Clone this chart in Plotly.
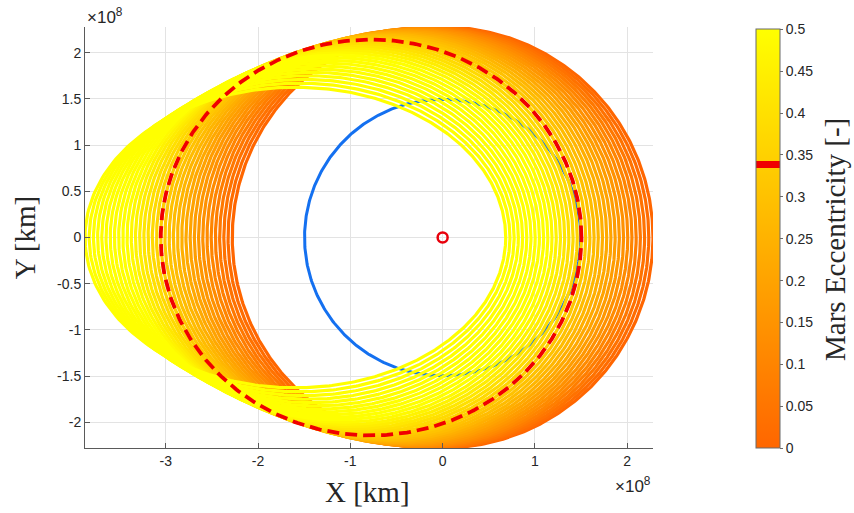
import numpy as np
import plotly.graph_objects as go
from plotly.colors import sample_colorscale

# Orbital parameters (km)
MARS_A_KM = 2.279e8          # semi-major axis of the Mars orbit family
EARTH_R_KM = 1.496e8         # Earth orbit radius (circular)
HIGHLIGHT_E = 0.34           # highlighted Mars eccentricity (dashed)

# Eccentricities of the plotted orbit family
ECCENTRICITIES = [0.00, 0.02, 0.04, 0.06, 0.08, 0.10, 0.12, 0.14, 0.16,
                  0.18, 0.20, 0.22, 0.24, 0.26, 0.28, 0.30, 0.32, 0.34,
                  0.36, 0.38, 0.40, 0.42, 0.44, 0.46, 0.48, 0.50, 0.52,
                  0.54, 0.56, 0.58, 0.60, 0.62, 0.64, 0.66, 0.68, 0.70]

# Colour scale limits and axis ticks
C_MIN, C_MAX = 0.0, 0.5
CBAR_TICKS = [0, 0.05, 0.1, 0.15, 0.2, 0.25, 0.3, 0.35, 0.4, 0.45, 0.5]
X_TICKS = [-3, -2, -1, 0, 1, 2]
Y_TICKS = [-2, -1.5, -1, -0.5, 0, 0.5, 1, 1.5, 2]
SCALE = 1e8

ORANGE = "#FF6600"
YELLOW = "#FFFF00"
BASE_SCALE = [[0.0, ORANGE], [1.0, YELLOW]]

LABEL_FONT = "Liberation Serif, Times New Roman, serif"
TICK_FONT = "Liberation Sans, Arial, Helvetica, sans-serif"

theta = np.linspace(0, 2 * np.pi, 600)


def focal_ellipse(a, e):
    """Keplerian orbit with the Sun at the focus, periapsis on +x."""
    r = a * (1 - e ** 2) / (1 + e * np.cos(theta))
    return r * np.cos(theta), r * np.sin(theta)


fig = go.Figure()

# Earth orbit
fig.add_trace(go.Scatter(
    x=EARTH_R_KM * np.cos(theta), y=EARTH_R_KM * np.sin(theta),
    mode="lines", line=dict(color="#1470F0", width=3),
    hoverinfo="skip", showlegend=False))

# Mars orbit family coloured by eccentricity (clipped to colour limits)
for e in ECCENTRICITIES:
    t = (min(max(e, C_MIN), C_MAX) - C_MIN) / (C_MAX - C_MIN)
    col = sample_colorscale(BASE_SCALE, [t])[0]
    x, y = focal_ellipse(MARS_A_KM, e)
    fig.add_trace(go.Scatter(
        x=x, y=y, mode="lines", line=dict(color=col, width=3.2),
        hoverinfo="skip", showlegend=False))

# Highlighted orbit
xh, yh = focal_ellipse(MARS_A_KM, HIGHLIGHT_E)
fig.add_trace(go.Scatter(
    x=xh, y=yh, mode="lines",
    line=dict(color="#F00000", width=3.8, dash="12px,6px"),
    hoverinfo="skip", showlegend=False))

# Sun
fig.add_trace(go.Scatter(
    x=[0], y=[0], mode="markers",
    marker=dict(symbol="circle-open", size=10, color="#E8000B",
                line=dict(width=2.5, color="#E8000B")),
    hoverinfo="skip", showlegend=False))

# Colour bar with the highlighted eccentricity marked in red
band_lo = (0.334 - C_MIN) / (C_MAX - C_MIN)
band_hi = (0.342 - C_MIN) / (C_MAX - C_MIN)
c_lo = sample_colorscale(BASE_SCALE, [band_lo])[0]
c_hi = sample_colorscale(BASE_SCALE, [band_hi])[0]
cbar_scale = [[0.0, ORANGE], [band_lo, c_lo], [band_lo, "#F00000"],
              [band_hi, "#F00000"], [band_hi, c_hi], [1.0, YELLOW]]

fig.add_trace(go.Scatter(
    x=[None], y=[None], mode="markers",
    marker=dict(color=[0], cmin=C_MIN, cmax=C_MAX, colorscale=cbar_scale,
                showscale=True,
                colorbar=dict(
                    x=1.181, xanchor="left", xpad=0, ypad=0,
                    y=0.497, yanchor="middle", len=0.995, lenmode="fraction",
                    thickness=24, outlinewidth=1, outlinecolor="#6b6b6b",
                    tickvals=CBAR_TICKS,
                    ticktext=[f"{v:g}" for v in CBAR_TICKS],
                    ticks="outside", ticklen=3, tickcolor="#6b6b6b",
                    tickfont=dict(family=TICK_FONT, size=14, color="#262626"))),
    hoverinfo="skip", showlegend=False))

x_lo = -MARS_A_KM * (1 + max(ECCENTRICITIES))
x_hi = MARS_A_KM
fig.update_layout(
    width=854, height=513,
    margin=dict(l=85, r=201, t=27, b=65),
    paper_bgcolor="white", plot_bgcolor="white",
    xaxis=dict(range=[x_lo, x_hi], tickvals=[v * SCALE for v in X_TICKS],
               ticktext=[f"{v:g}" for v in X_TICKS],
               showgrid=True, gridcolor="#E3E3E3", gridwidth=1,
               zeroline=False, showline=True, linecolor="#5a5a5a",
               linewidth=1, ticks="inside", ticklen=5, tickcolor="#5a5a5a",
               tickfont=dict(family=TICK_FONT, size=14, color="#262626")),
    yaxis=dict(range=[-MARS_A_KM, MARS_A_KM],
               tickvals=[v * SCALE for v in Y_TICKS],
               ticktext=[f"{v:g}" for v in Y_TICKS],
               showgrid=True, gridcolor="#E3E3E3", gridwidth=1,
               zeroline=False, showline=True, linecolor="#5a5a5a",
               linewidth=1, ticks="inside", ticklen=5, tickcolor="#5a5a5a",
               tickfont=dict(family=TICK_FONT, size=14, color="#262626")),
)

annotations = [
    dict(text="X [km]", x=0.498, y=-0.105, xref="paper", yref="paper",
         xanchor="center", yanchor="middle", showarrow=False,
         font=dict(family=LABEL_FONT, size=29, color="#262626")),
    dict(text="Y [km]", x=-0.106, y=0.50, xref="paper", yref="paper",
         xanchor="center", yanchor="middle", textangle=-90, showarrow=False,
         font=dict(family=LABEL_FONT, size=29, color="#262626")),
    dict(text="Mars Eccentricity [-]", x=1.320, y=0.496, xref="paper",
         yref="paper", xanchor="center", yanchor="middle", textangle=-90,
         showarrow=False,
         font=dict(family=LABEL_FONT, size=29, color="#262626")),
    dict(text="×10<sup>8</sup>", x=0.0, y=1.0, xref="paper", yref="paper",
         xanchor="left", yanchor="bottom", yshift=-2, showarrow=False,
         font=dict(family=TICK_FONT, size=17, color="#262626")),
    dict(text="×10<sup>8</sup>", x=1.0, y=-0.088, xref="paper", yref="paper",
         xanchor="right", yanchor="middle", showarrow=False,
         font=dict(family=TICK_FONT, size=17, color="#262626")),
]
fig.update_layout(annotations=annotations)

fig.write_html("out.html")
